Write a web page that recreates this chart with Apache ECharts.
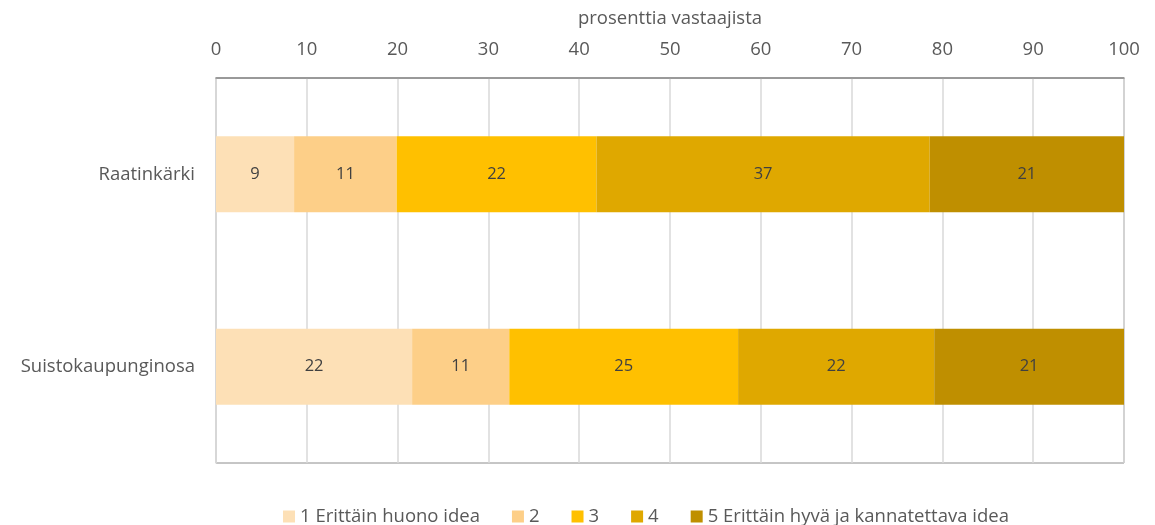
<!DOCTYPE html>
<html>
<head>
<meta charset="utf-8">
<script src="https://cdn.jsdelivr.net/npm/echarts@6/dist/echarts.min.js"></script>
<style>
html,body{margin:0;padding:0;background:#fff;}
#chart{width:1155px;height:525px;}
</style>
</head>
<body>
<div id="chart"></div>
<script>
const categories = ['Raatinkärki', 'Suistokaupunginosa'];
const seriesNames = ['1 Erittäin huono idea', '2', '3', '4', '5 Erittäin hyvä ja kannatettava idea'];
const s1 = [8.6, 21.6];
const s2 = [11.3, 10.7];
const s3 = [22.0, 25.2];
const s4 = [36.7, 21.6];
const s5 = [21.4, 20.9];
const xTicks = [0, 10, 20, 30, 40, 50, 60, 70, 80, 90, 100];
const axisTitle = 'prosenttia vastaajista';

const colors = ['#fde0b6', '#fdcf88', '#ffc000', '#dfa800', '#bf8f00'];
const allData = [s1, s2, s3, s4, s5];
const FONT = '"Open Sans", "Noto Sans", sans-serif';

const chart = echarts.init(document.getElementById('chart'));
chart.setOption({
  animation: false,
  color: colors,
  textStyle: { fontFamily: FONT },
  grid: {
    left: 216, right: 31, top: 78, bottom: 62,
    containLabel: false,
    outerBoundsMode: 'none',
    show: true, borderColor: '#8c8c8c', borderWidth: 1
  },
  xAxis: {
    type: 'value',
    position: 'top',
    min: xTicks[0], max: xTicks[xTicks.length - 1], interval: 10,
    name: axisTitle,
    nameLocation: 'middle',
    nameGap: 50,
    nameTextStyle: { color: '#595959', fontSize: 18.5, fontFamily: FONT },
    axisLine: { show: true, lineStyle: { color: '#8c8c8c', width: 1.5 } },
    axisTick: { show: false },
    axisLabel: { color: '#595959', fontSize: 18.5, margin: 19, fontFamily: FONT },
    splitLine: { show: true, lineStyle: { color: '#d9d9d9', width: 1.5 } }
  },
  yAxis: {
    type: 'category',
    data: categories,
    inverse: true,
    axisLine: { show: true, lineStyle: { color: '#d9d9d9', width: 1.5 } },
    axisTick: { show: false },
    axisLabel: { color: '#595959', fontSize: 18.5, margin: 21, fontFamily: FONT }
  },
  legend: {
    bottom: -6,
    left: 278,
    icon: 'rect',
    itemWidth: 12,
    itemHeight: 12,
    itemGap: 32,
    textStyle: { color: '#595959', fontSize: 18.5, fontFamily: FONT },
    data: seriesNames
  },
  series: seriesNames.map((n, i) => ({
    name: n,
    type: 'bar',
    stack: 'total',
    barWidth: 76,
    data: allData[i],
    label: {
      show: true,
      position: 'inside',
      color: '#404040',
      fontSize: 16.5,
      fontFamily: FONT,
      formatter: p => Math.round(p.value)
    }
  }))
});
</script>
</body>
</html>
